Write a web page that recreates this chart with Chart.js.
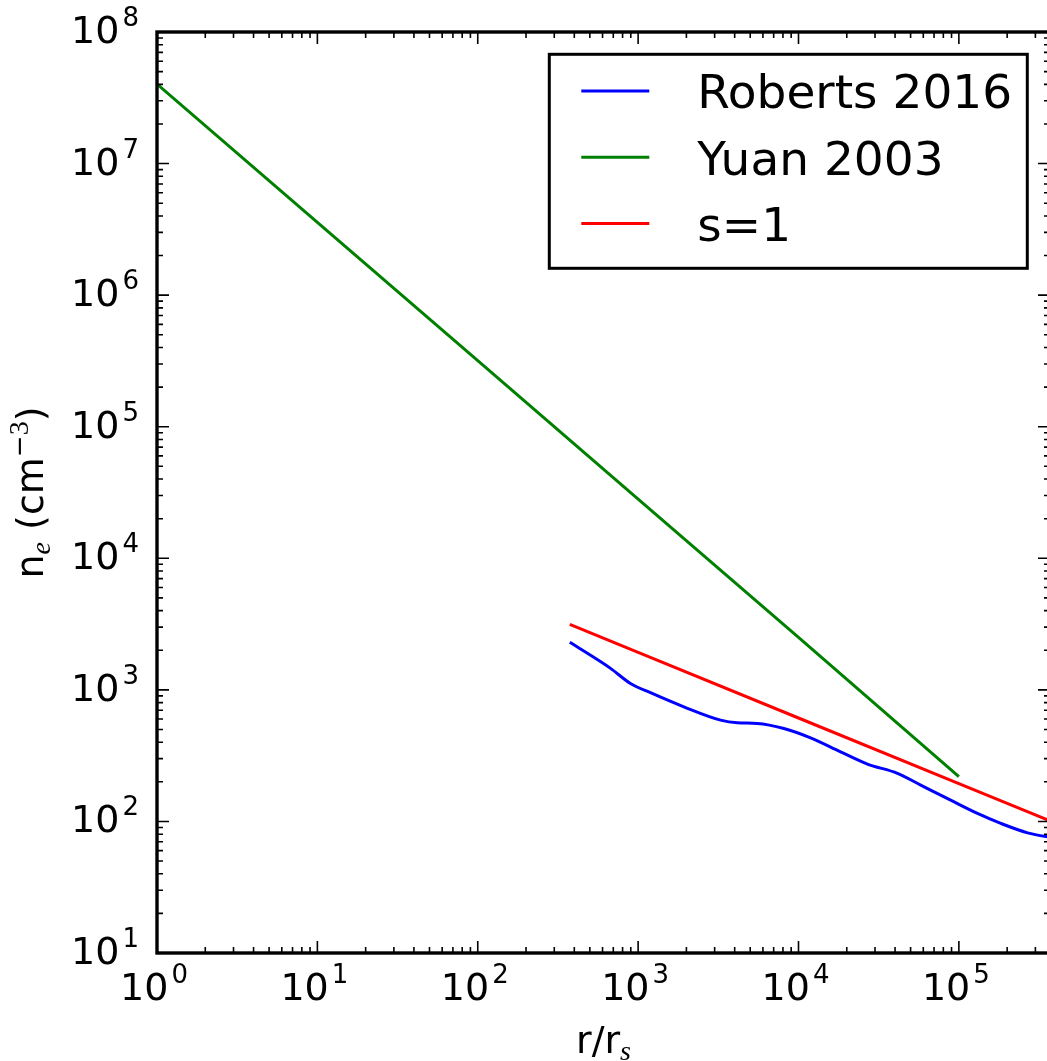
<!DOCTYPE html>
<html>
<head>
<meta charset="utf-8">
<script src="https://cdn.jsdelivr.net/npm/chart.js@4.4.0/dist/chart.umd.min.js"></script>
<style>
  html, body { margin: 0; padding: 0; background: #fff; overflow: hidden; }
  #wrap { width: 1060px; height: 1061px; }
</style>
</head>
<body>
<div id="wrap"><canvas id="density" width="1060" height="1061"></canvas></div>
<script>
// radius in units of r_s, electron density in cm^-3
const robertsR = [375, 673, 896, 1194, 1928, 3266, 4150, 5530, 8110, 11900, 18300, 26900, 41400, 57800, 88900, 130600, 182600, 268000, 358000, 370000];
const robertsNe = [2297, 1456, 1119, 951, 743, 589, 562, 556, 509, 432, 338, 273, 232, 189, 145, 115, 96.6, 81.9, 76.4, 76];

const yuanR = [1, 10, 100, 1000, 10000, 100000];
const yuanNe = [4.02e7, 3.57e6, 3.18e5, 2.82e4, 2510, 219];

const s1R = [375, 1000, 10000, 100000, 370000];
const s1Ne = [3150, 1930, 611, 194, 101];

const seriesLabels = ['Roberts 2016', 'Yuan 2003', 's=1'];
const seriesColors = ['#0000ff', '#008000', '#ff0000'];

const xExponents = [0, 1, 2, 3, 4, 5];
const yExponents = [1, 2, 3, 4, 5, 6, 7, 8];
const xRange = [1, 3.7e5];
const yRange = [10, 1e8];

const TICK_FONT = 38;
const SUP_FONT = 26;
const LABEL_FONT = 38;
const LEGEND_FONT = 47;

const sans = (px) => `${px}px "DejaVu Sans"`;
const mathItalic = (px) => `italic ${px}px "Liberation Serif"`;
const mathUpright = (px) => `${px}px "Liberation Serif"`;

const toPoints = (xs, ys) => xs.map((x, i) => ({ x: x, y: ys[i] }));

// 1..9 x 10^n positions inside the scale range
function logTickValues(scale) {
  const out = [];
  const lo = Math.floor(Math.log10(scale.min));
  const hi = Math.ceil(Math.log10(scale.max));
  for (let e = lo; e <= hi; e++) {
    for (let m = 1; m < 10; m++) {
      const v = m * Math.pow(10, e);
      if (v >= scale.min * 0.9999 && v <= scale.max * 1.0001) out.push({ value: v, major: m === 1 });
    }
  }
  return out;
}

// "10" with a raised exponent; x is the centre or the right edge
function drawPower(ctx, exp, x, baseline, align) {
  ctx.font = sans(TICK_FONT);
  const wBase = ctx.measureText('10').width;
  ctx.font = sans(SUP_FONT);
  const wSup = ctx.measureText(String(exp)).width;
  const total = wBase + 3 + wSup;
  const left = align === 'center' ? x - total / 2 : x - total;
  ctx.textAlign = 'left';
  ctx.textBaseline = 'alphabetic';
  ctx.font = sans(TICK_FONT);
  ctx.fillText('10', left, baseline);
  ctx.font = sans(SUP_FONT);
  ctx.fillText(String(exp), left + wBase + 3, baseline - 17);
}

// sequence of [text, font, baseline shift] drawn centred on x
function drawRuns(ctx, runs, cx, baseline) {
  let total = 0;
  runs.forEach(r => { ctx.font = r[1]; total += ctx.measureText(r[0]).width; });
  let x = cx - total / 2;
  ctx.textAlign = 'left';
  ctx.textBaseline = 'alphabetic';
  runs.forEach(r => {
    ctx.font = r[1];
    ctx.fillText(r[0], x, baseline + r[2]);
    x += ctx.measureText(r[0]).width;
  });
}

const classicAxes = {
  id: 'classicAxes',
  afterDatasetsDraw(chart) {
    const ctx = chart.ctx;
    const area = chart.chartArea;
    const xs = chart.scales.x;
    const ys = chart.scales.y;
    ctx.save();
    ctx.fillStyle = '#000';
    ctx.strokeStyle = '#000';

    // inward ticks on all four sides
    ctx.lineWidth = 1.6;
    ctx.beginPath();
    logTickValues(xs).forEach(t => {
      const px = xs.getPixelForValue(t.value);
      const len = t.major ? 12 : 6;
      ctx.moveTo(px, area.bottom); ctx.lineTo(px, area.bottom - len);
      ctx.moveTo(px, area.top); ctx.lineTo(px, area.top + len);
    });
    logTickValues(ys).forEach(t => {
      const py = ys.getPixelForValue(t.value);
      const len = t.major ? 12 : 6;
      ctx.moveTo(area.left, py); ctx.lineTo(area.left + len, py);
      ctx.moveTo(area.right, py); ctx.lineTo(area.right - len, py);
    });
    ctx.stroke();

    // frame
    ctx.lineWidth = 3.4;
    ctx.strokeRect(area.left, area.top, area.right - area.left, area.bottom - area.top);

    // tick labels
    xExponents.forEach(e => {
      const px = xs.getPixelForValue(Math.pow(10, e));
      drawPower(ctx, e, px - 3, area.bottom + 47, 'center');
    });
    yExponents.forEach(e => {
      const py = ys.getPixelForValue(Math.pow(10, e));
      drawPower(ctx, e, area.left - 18, py + 11, 'right');
    });

    // axis titles
    drawRuns(ctx, [
      ['r/r', sans(LABEL_FONT), 0],
      ['s', mathItalic(28), 7]
    ], (area.left + area.right) / 2, 1053);

    ctx.save();
    ctx.translate(43, (area.top + area.bottom) / 2);
    ctx.rotate(-Math.PI / 2);
    drawRuns(ctx, [
      ['n', sans(LABEL_FONT), 0],
      ['e', mathItalic(28), 7],
      [' (cm', sans(LABEL_FONT), 0],
      ['\u2212', sans(26), -15],
      ['3', mathUpright(28), -15],
      [')', sans(LABEL_FONT), 0]
    ], 0, 0);
    ctx.restore();

    // legend box, upper right
    const boxW = 478, boxH = 214;
    const bx = area.right - 22.7 - boxW;
    const by = area.top + 22.3;
    ctx.fillStyle = '#fff';
    ctx.fillRect(bx, by, boxW, boxH);
    ctx.lineWidth = 3;
    ctx.strokeStyle = '#000';
    ctx.strokeRect(bx, by, boxW, boxH);
    chart.data.datasets.forEach((ds, i) => {
      const rowY = by + 36.7 + i * 66.3;
      ctx.strokeStyle = ds.borderColor;
      ctx.lineWidth = 3;
      ctx.beginPath();
      ctx.moveTo(bx + 32, rowY);
      ctx.lineTo(bx + 100, rowY);
      ctx.stroke();
      ctx.fillStyle = '#000';
      ctx.font = sans(LEGEND_FONT);
      ctx.textAlign = 'left';
      ctx.textBaseline = 'alphabetic';
      ctx.fillText(ds.label, bx + 148, rowY + 17.2);
    });
    ctx.restore();
  }
};

const lineStyle = (i) => ({
  label: seriesLabels[i],
  borderColor: seriesColors[i],
  backgroundColor: seriesColors[i],
  borderWidth: 3,
  pointRadius: 0,
  fill: false
});

new Chart(document.getElementById('density').getContext('2d'), {
  type: 'line',
  data: {
    datasets: [
      Object.assign(lineStyle(0), { data: toPoints(robertsR, robertsNe), cubicInterpolationMode: 'monotone' }),
      Object.assign(lineStyle(1), { data: toPoints(yuanR, yuanNe) }),
      Object.assign(lineStyle(2), { data: toPoints(s1R, s1Ne) })
    ]
  },
  options: {
    responsive: false,
    animation: false,
    layout: { padding: { left: 157, top: 32, right: 10, bottom: 108 } },
    scales: {
      x: { type: 'logarithmic', min: xRange[0], max: xRange[1], display: false },
      y: { type: 'logarithmic', min: yRange[0], max: yRange[1], display: false }
    },
    plugins: {
      legend: { display: false },
      tooltip: { enabled: false }
    }
  },
  plugins: [classicAxes]
});
</script>
</body>
</html>
